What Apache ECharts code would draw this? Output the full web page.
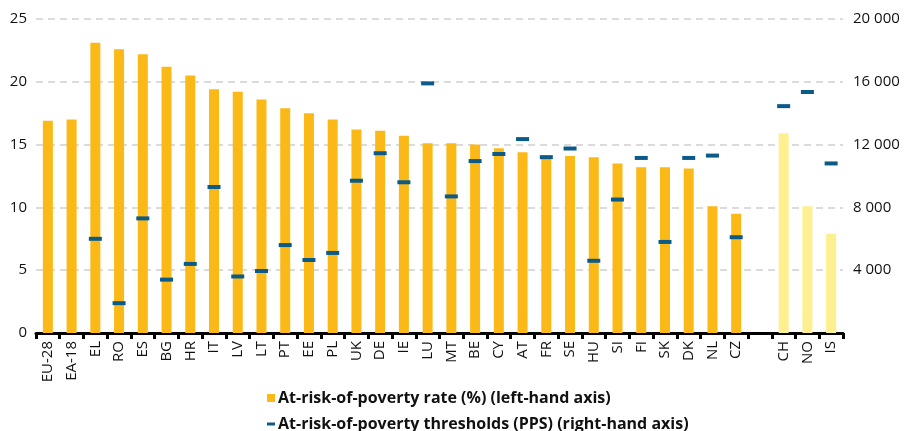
<!DOCTYPE html>
<html>
<head>
<meta charset="utf-8">
<script src="https://cdn.jsdelivr.net/npm/echarts@6/dist/echarts.min.js"></script>
<style>
html,body{margin:0;padding:0;background:#fff;}
#c{width:904px;height:431px;}
</style>
</head>
<body>
<div id="c"></div>
<script>
const categories = ['EU-28','EA-18','EL','RO','ES','BG','HR','IT','LV','LT','PT','EE','PL','UK','DE','IE','LU','MT','BE','CY','AT','FR','SE','HU','SI','FI','SK','DK','NL','CZ','','CH','NO','IS'];
const povertyRate = [16.9,17.0,23.1,22.6,22.2,21.2,20.5,19.4,19.2,18.6,17.9,17.5,17.0,16.2,16.1,15.7,15.1,15.1,15.0,14.7,14.4,13.9,14.1,14.0,13.5,13.2,13.2,13.1,10.1,9.5,null,15.9,10.1,7.9];
const povertyThreshold = [null,null,6000,1900,7300,3400,4400,9300,3600,3950,5600,4650,5100,9700,11450,9600,15900,8700,10950,11400,12350,11200,11750,4600,8500,11150,5800,11150,11300,6100,null,14450,15350,10800];
const nonEuCategories = ['CH','NO','IS'];
const leftTicks = [0,5,10,15,20,25];
const rightTicks = [0,4000,8000,12000,16000,20000];

const barColor = '#FBB917';
const lightBarColor = '#FFF08F';
const markerColor = '#0B5A87';
const fontFam = '"Open Sans", "Noto Sans", sans-serif';

const barData = povertyRate.map((v, i) => ({
  value: v,
  itemStyle: { color: nonEuCategories.includes(categories[i]) ? lightBarColor : barColor }
}));

const chart = echarts.init(document.getElementById('c'), null, {renderer: 'canvas'});
chart.setOption({
  animation: false,
  textStyle: { fontFamily: fontFam },
  grid: { left: 36, right: 61, top: 19, bottom: 98, containLabel: false },
  legend: [
    {
      data: [{ name: 'At-risk-of-poverty rate (%) (left-hand axis)', icon: 'rect' }],
      left: 262, top: 385,
      itemWidth: 8, itemHeight: 8, itemGap: 5,
      textStyle: { fontFamily: fontFam, fontWeight: 'bold', fontSize: 16, color: '#111', padding: [0,0,0,-2] }
    },
    {
      data: [{ name: 'At-risk-of-poverty thresholds (PPS) (right-hand axis)', icon: 'rect' }],
      left: 262, top: 411,
      itemWidth: 8, itemHeight: 3, itemGap: 5,
      textStyle: { fontFamily: fontFam, fontWeight: 'bold', fontSize: 16, color: '#111', padding: [0,0,0,-2] }
    }
  ],
  xAxis: {
    type: 'category',
    data: categories,
    boundaryGap: true,
    axisLine: { show: true, lineStyle: { color: '#000', width: 3 } },
    axisTick: { show: true, length: 6, lineStyle: { color: '#000', width: 3 } },
    axisLabel: { rotate: 90, color: '#111', fontSize: 15, fontFamily: fontFam, margin: 8, interval: 0 }
  },
  yAxis: [
    {
      type: 'value', min: 0, max: 25, interval: 5,
      axisLine: { show: false }, axisTick: { show: false },
      axisLabel: { color: '#111', fontSize: 15, fontFamily: fontFam, margin: 9,
        formatter: v => leftTicks.includes(v) ? String(v) : '' },
      splitLine: { show: true, lineStyle: { color: '#cfcfcf', width: 1.5, type: [7, 5] } }
    },
    {
      type: 'value', min: 0, max: 20000, interval: 4000, position: 'right',
      axisLine: { show: false }, axisTick: { show: false },
      axisLabel: { color: '#111', fontSize: 15, fontFamily: fontFam, margin: 10,
        formatter: v => (v === 0 || !rightTicks.includes(v)) ? '' : String(v).replace(/\B(?=(\d{3})+(?!\d))/g, ' ') },
      splitLine: { show: false }
    }
  ],
  series: [
    {
      name: 'At-risk-of-poverty rate (%) (left-hand axis)',
      type: 'bar',
      data: barData,
      barWidth: 10,
      itemStyle: { color: barColor },
      yAxisIndex: 0
    },
    {
      name: 'At-risk-of-poverty thresholds (PPS) (right-hand axis)',
      type: 'scatter',
      data: povertyThreshold,
      yAxisIndex: 1,
      symbol: 'rect',
      symbolSize: [13, 4],
      itemStyle: { color: markerColor, opacity: 1 },
      z: 5
    }
  ]
});
</script>
</body>
</html>
